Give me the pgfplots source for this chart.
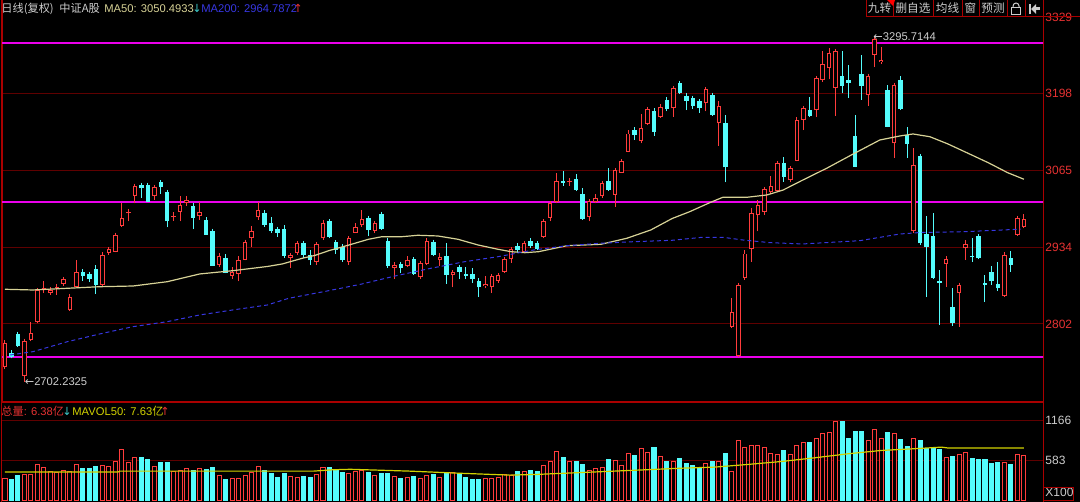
\documentclass[border=0pt]{standalone}
\usepackage{pgfplots}
\pgfplotsset{compat=1.18}
\usepackage{pgfplotstable}
\usepackage{fontspec}
\setmainfont{Liberation Sans}
\newfontfamily\cjk{Noto Sans CJK SC}
\newfontfamily\sym{DejaVu Sans}

\definecolor{cred}{RGB}{255,60,60}
\definecolor{ccyan}{RGB}{84,252,252}
\definecolor{gridc}{RGB}{95,0,0}
\definecolor{framec}{RGB}{170,0,0}
\definecolor{mag}{RGB}{235,0,235}
\definecolor{ma50}{RGB}{215,210,150}
\definecolor{ma200}{RGB}{55,55,225}
\definecolor{vol50}{RGB}{210,210,0}
\definecolor{txt}{RGB}{205,205,205}
\definecolor{lbl}{RGB}{230,50,50}
\definecolor{arrc}{RGB}{60,200,200}
\newcommand\hf{\fontsize{5.6pt}{6.5pt}\selectfont}

\pgfplotstableread{
i O H L C V
0 2729 2775 2724 2770 326
1 2752 2757 2743 2746 307
2 2785 2789 2763 2764 360
3 2713 2776 2702.23 2773 380
4 2775 2806 2772 2787 380
5 2806 2863 2803 2860 526
6 2860 2875 2855 2863 487
7 2855 2866 2852 2860 428
8 2863 2871 2852 2866 414
9 2871 2883 2867 2879 438
10 2826 2854 2825 2848 428
11 2866 2912 2865 2892 526
12 2892 2896 2876 2884 472
13 2888 2890 2874 2880 462
14 2896 2903 2854 2869 496
15 2869 2922 2867 2921 511
16 2924 2932 2921 2930 496
17 2926 2956 2925 2955 569
18 2971 3010 2969 2984 740
19 2992 2999 2978 2995 560
20 3022 3041 3009 3039 632
21 3041 3042 3018 3035 632
22 3041 3044 3011 3012 594
23 3022 3041 3015 3037 496
24 3045 3046 3026 3037 555
25 3029 3032 2968 2978 555
26 2985 2995 2979 2987 419
27 2995 3021 2978 3006 438
28 3009 3022 3005 3014 472
29 3005 3008 2965 2984 438
30 2987 3012 2981 2995 462
31 2981 2982 2955 2955 457
32 2962 2963 2902 2902 487
33 2903 2924 2900 2919 365
34 2915 2922 2889 2890 311
35 2885 2900 2880 2892 326
36 2888 2918 2875 2912 326
37 2912 2946 2911 2943 365
38 2949 2970 2935 2962 414
39 2985 3012 2981 2998 496
40 2993 2995 2969 2972 438
41 2975 2986 2959 2962 394
42 2965 2969 2952 2959 341
43 2965 2972 2915 2919 389
44 2915 2921 2898 2920 350
45 2924 2943 2921 2941 331
46 2941 2945 2915 2921 350
47 2921 2929 2903 2911 341
48 2909 2941 2903 2939 380
49 2949 2978 2947 2976 487
50 2978 2979 2949 2951 487
51 2942 2943 2922 2929 438
52 2935 2938 2909 2911 414
53 2909 2952 2903 2949 400
54 2959 2975 2958 2968 423
55 2972 2997 2969 2982 438
56 2984 2985 2953 2963 409
57 2962 2978 2958 2975 365
58 2991 2993 2963 2965 394
59 2945 2946 2898 2902 394
60 2898 2909 2879 2903 350
61 2905 2906 2889 2898 326
62 2902 2918 2899 2912 341
63 2913 2917 2886 2888 350
64 2882 2909 2879 2907 326
65 2905 2946 2903 2945 365
66 2943 2946 2918 2921 380
67 2912 2924 2902 2917 341
68 2918 2941 2871 2886 414
69 2886 2893 2865 2891 414
70 2899 2903 2879 2892 399
71 2888 2900 2879 2884 341
72 2888 2898 2872 2879 311
73 2876 2881 2848 2865 311
74 2867 2884 2863 2871 326
75 2865 2886 2855 2884 326
76 2876 2890 2873 2886 341
77 2892 2915 2890 2913 375
78 2913 2932 2907 2930 365
79 2936 2941 2924 2929 419
80 2926 2942 2924 2941 419
81 2945 2947 2932 2936 433
82 2941 2943 2929 2930 419
83 2952 2981 2949 2978 511
84 2984 3012 2978 3009 569
85 3012 3062 3009 3048 715
86 3048 3064 3039 3044 632
87 3045 3053 3039 3048 569
88 3051 3059 3030 3032 569
89 3025 3035 2981 2982 526
90 2986 3015 2978 3013 433
91 3011 3026 3009 3019 472
92 3021 3045 3019 3044 487
93 3048 3069 3030 3032 603
94 3024 3068 3003 3066 579
95 3062 3082 3061 3081 511
96 3098 3135 3097 3129 691
97 3135 3141 3118 3127 652
98 3116 3162 3112 3139 755
99 3145 3172 3144 3171 696
100 3168 3172 3125 3132 769
101 3158 3177 3156 3175 647
102 3187 3190 3167 3171 569
103 3172 3209 3158 3207 565
104 3216 3218 3197 3198 608
105 3193 3198 3169 3185 545
106 3190 3191 3171 3176 511
107 3184 3187 3165 3172 482
108 3182 3207 3167 3205 545
109 3195 3197 3159 3161 569
110 3147 3184 3108 3176 574
111 3147 3161 3045 3071 681
112 2797 2846 2795 2823 423
113 2747 2872 2745 2869 876
114 2881 2929 2878 2923 769
115 2930 3001 2909 2993 798
116 2989 3015 2961 3006 798
117 2995 3035 2989 3033 769
118 3029 3056 3026 3039 691
119 3031 3079 3029 3078 672
120 3079 3089 3046 3055 730
121 3049 3072 3045 3069 676
122 3082 3155 3081 3153 798
123 3153 3175 3135 3172 847
124 3169 3192 3157 3159 852
125 3169 3227 3157 3224 900
126 3221 3271 3218 3248 973
127 3241 3275 3222 3267 998
128 3207 3271 3159 3270 1158
129 3227 3270 3198 3211 1158
130 3220 3247 3190 3216 900
131 3124 3161 3071 3072 1012
132 3232 3264 3187 3211 1012
133 3195 3230 3176 3228 876
134 3264 3295.71 3243 3291 1037
135 3252 3278 3248 3256 900
136 3203 3212 3140 3141 998
137 3112 3214 3087 3212 983
138 3221 3227 3169 3171 886
139 3127 3141 3087 3111 788
140 2961 3104 2958 3075 900
141 3090 3092 2938 2941 876
142 2957 2987 2848 2934 764
143 2953 2992 2879 2881 755
144 2875 2894 2800 2872 740
145 2905 2918 2866 2913 632
146 2832 2863 2799 2804 647
147 2856 2872 2797 2869 667
148 2932 2947 2912 2939 701
149 2919 2949 2909 2917 618
150 2953 2957 2913 2915 594
151 2873 2886 2840 2869 603
152 2892 2902 2869 2876 545
153 2871 2909 2859 2863 555
154 2850 2922 2849 2921 555
155 2915 2928 2892 2903 526
156 2955 2985 2953 2984 676
157 2969 2990 2966 2982 652
}\candles

\pgfplotsset{
  upf/.style={x filter/.expression={\thisrow{C}>\thisrow{O} ? x : nan}},
  dnf/.style={x filter/.expression={\thisrow{C}<\thisrow{O} ? x : nan}},
  hollowf/.style={x filter/.expression={\thisrow{C}-\thisrow{O}>3.6 ? x : nan}},
}

\begin{document}
\begin{tikzpicture}
\fill[black] (0,0) rectangle (540pt,-251pt);
\useasboundingbox (0,0) rectangle (540pt,-251pt);

\begin{axis}[at={(1pt,-200.5pt)}, anchor=south west, scale only axis,
  width=520.5pt, height=200.5pt,
  xmin=-0.462, xmax=159.94, ymin=2669.8, ymax=3358.2,
  axis line style={draw=framec, line width=0.5pt},
  xtick=\empty,
  ytick={2802,2934,3065,3198}, yticklabels={2802,2934,3065,3198},
  extra y ticks={3329}, extra y tick labels={3329}, extra y tick style={grid=none},
  ymajorgrids, grid style={draw=gridc, line width=0.5pt},
  yticklabel pos=right, major tick length=0pt,
  yticklabel style={font=\fontsize{6pt}{7pt}\selectfont, text=lbl, anchor=west, inner sep=0pt, xshift=1pt},
  clip=true]

% support / resistance lines
\addplot[mag, line width=1pt, forget plot] coordinates {(-1,3284.4) (161,3284.4)};
\addplot[mag, line width=1pt, forget plot] coordinates {(-1,3011.4) (161,3011.4)};
\addplot[mag, line width=1pt, forget plot] coordinates {(-1,2745.4) (161,2745.4)};

% wicks
\addplot[draw=none, mark=none, forget plot, upf,
  error bars/.cd, y dir=plus, y explicit, error mark=none,
  error bar style={draw=cred, line width=0.5pt}]
  table[x=i, y=L, y error plus expr=\thisrow{H}-\thisrow{L}] {\candles};
\addplot[draw=none, mark=none, forget plot, dnf,
  error bars/.cd, y dir=plus, y explicit, error mark=none,
  error bar style={draw=ccyan, line width=0.5pt}]
  table[x=i, y=L, y error plus expr=\thisrow{H}-\thisrow{L}] {\candles};

% bodies up: red block, then black inside (hollow)
\addplot[draw=none, mark=none, forget plot, upf,
  error bars/.cd, y dir=plus, y explicit, error mark=-,
  error mark options={draw=cred, line width=0.5pt, mark size=1.125pt},
  error bar style={draw=cred, line width=2.25pt}]
  table[x=i, y=O, y error plus expr=\thisrow{C}-\thisrow{O}] {\candles};
\addplot[draw=none, mark=none, forget plot, hollowf,
  error bars/.cd, y dir=plus, y explicit, error mark=none,
  error bar style={draw=black, line width=1.25pt}]
  table[x=i, y expr=\thisrow{O}+1.7, y error plus expr=\thisrow{C}-\thisrow{O}-3.4] {\candles};
% bodies down (filled)
\addplot[draw=none, mark=none, forget plot, dnf,
  error bars/.cd, y dir=plus, y explicit, error mark=-,
  error mark options={draw=ccyan, line width=0.5pt, mark size=1.125pt},
  error bar style={draw=ccyan, line width=2.25pt}]
  table[x=i, y=C, y error plus expr=\thisrow{O}-\thisrow{C}] {\candles};

% MA50
\addplot[ma50, line width=0.6pt, mark=none] coordinates {
(0,2861.6) (4.3,2860.4) (9.6,2863.3) (14.6,2866) (19.7,2867.2) (25,2874.6) (30,2887.9) (35.1,2893.5) (40.4,2900.7) (42.7,2905) (45.8,2914.8) (47.8,2919.9) (49.9,2927.9) (53,2937.6) (56,2947.4) (58.1,2951.9) (61.2,2951.9) (63.6,2954.3) (66.7,2953.1) (69.8,2947.4) (72.9,2937.6) (76,2930.2) (78,2926.1) (80.1,2924.4) (82.2,2926.1) (86.6,2936.4) (91.8,2938.8) (95.8,2949.1) (99.5,2963.4) (102.8,2983.1) (105.5,2994.8) (108.6,3010.3) (110.6,3019.5) (114.3,3019.5) (117.4,3023.5) (119.9,3032) (122.8,3048.4) (126.6,3069.3) (130.7,3093.9) (134.8,3117.9) (137.9,3124.8) (139.9,3128.2) (142.5,3123.5) (145.3,3111) (148.4,3095) (151.5,3078.9) (154.5,3061.7) (157,3050.5)};
% MA200
\addplot[ma200, line width=0.5pt, mark=none, dash pattern=on 2pt off 1.5pt] coordinates {
(0.8,2748.8) (4.3,2754.5) (9.6,2771.6) (14.6,2784.9) (19.7,2797.4) (25,2806) (30,2817.5) (35.1,2826.1) (40.4,2834.6) (43.7,2846.1) (49.9,2859.2) (55,2870.7) (60.1,2884.4) (65.6,2897.6) (70.8,2908.9) (76,2917.6) (81.5,2929.1) (86.6,2936.4) (91.8,2940.6) (96.9,2943.3) (102.8,2945.7) (107.5,2950.9) (110.6,2950.9) (113.7,2946.2) (117.9,2941.6) (122.9,2939.4) (131.7,2945) (137.9,2956.5) (141.1,2959.1) (147.9,2960.5) (156.5,2964.8)};

\node[anchor=west, inner sep=0pt, text=txt, font=\hf] at (axis cs:133.75,3295.71) {{\sym ←}3295.7144};
\node[anchor=west, inner sep=0pt, text=txt, font=\hf] at (axis cs:3,2702.23) {{\sym ←}2702.2325};
\end{axis}

\begin{axis}[at={(1pt,-251pt)}, anchor=south west, scale only axis,
  width=520.5pt, height=50pt,
  xmin=-0.462, xmax=159.94, ymin=-21.9, ymax=1435.6,
  axis line style={draw=framec, line width=0.5pt},
  xtick=\empty,
  ytick={583,1166}, yticklabels={583,1166},
  extra y ticks={124}, extra y tick labels={X100}, extra y tick style={grid=none},
  ymajorgrids, grid style={draw=gridc, line width=0.5pt},
  yticklabel pos=right, major tick length=0pt,
  yticklabel style={font=\fontsize{6pt}{7pt}\selectfont, text=txt, anchor=west, inner sep=0pt, xshift=1pt},
  clip=true]
\addplot[ybar, bar width=0.62, bar shift=0pt, draw=cred, fill=black, line width=0.5pt, upf, forget plot]
  table[x=i, y=V] {\candles};
\addplot[ybar, bar width=0.62, bar shift=0pt, draw=ccyan, fill=ccyan, line width=0.5pt, dnf, forget plot]
  table[x=i, y=V] {\candles};
\addplot[vol50, line width=0.6pt, mark=none] coordinates {
(0,414) (17.4,414) (17.7,428) (47.5,428) (50.5,448) (53.2,455) (62.4,428) (69.6,399) (77.8,370) (81.9,380) (89.1,409) (96.3,438) (104.5,472) (109.4,487) (114.5,526) (119.7,569) (124.8,623) (129.9,681) (135.1,730) (140.2,755) (144.3,778) (145.4,764) (157,764)};
\end{axis}

\begin{scope}[x=0.5pt,y=-0.5pt]
% header
\node[anchor=west, inner sep=0pt, font=\hf, text=txt] at (1,8.5) {\cjk 日线(复权)};
\node[anchor=west, inner sep=0pt, font=\hf, text=txt] at (59,8.5) {\cjk 中证A股};
\node[anchor=west, inner sep=0pt, font=\hf, text=ma50] at (104,8.5) {MA50: 3050.4933};
\node[anchor=west, inner sep=0pt, font=\hf, text=arrc] at (192,8.5) {\sym ↓};
\node[anchor=west, inner sep=0pt, font=\hf, text=ma200] at (201,8.5) {MA200: 2964.7872};
\node[anchor=west, inner sep=0pt, font=\hf, text=lbl] at (293,8.5) {\sym ↑};
% volume header
\node[anchor=west, inner sep=0pt, font=\hf, text=lbl] at (1,411.5) {{\cjk 总量}: 6.38{\cjk 亿}};
\node[anchor=west, inner sep=0pt, font=\hf, text=arrc] at (62,411.5) {\sym ↓};
\node[anchor=west, inner sep=0pt, font=\hf, text=vol50] at (72,411.5) {MAVOL50: 7.63{\cjk 亿}};
\node[anchor=west, inner sep=0pt, font=\hf, text=lbl] at (160,411.5) {\sym ↑};
% toolbar
\fill[black] (866,0) rectangle (1043,17);
\draw[framec, line width=0.5pt] (866,0) -- (866,17) -- (1080,17);
\foreach \xx in {893,933,962,979,1007,1025,1043} \draw[framec, line width=0.5pt] (\xx,0) -- (\xx,17);
\node[inner sep=0pt, font=\fontsize{5.8pt}{6.5pt}\selectfont, text=txt] at (879.5,8.5) {\cjk 九转};
\node[inner sep=0pt, font=\fontsize{5.8pt}{6.5pt}\selectfont, text=txt] at (913,8.5) {\cjk 删自选};
\node[inner sep=0pt, font=\fontsize{5.8pt}{6.5pt}\selectfont, text=txt] at (947.5,8.5) {\cjk 均线};
\node[inner sep=0pt, font=\fontsize{5.8pt}{6.5pt}\selectfont, text=txt] at (970.5,8.5) {\cjk 窗};
\node[inner sep=0pt, font=\fontsize{5.8pt}{6.5pt}\selectfont, text=txt] at (993,8.5) {\cjk 预测};
\fill[red] (887,0) -- (895,0) -- (893,6) -- cycle;
\draw[txt, line width=0.5pt] (1011.5,8) rectangle (1020.5,15);
\draw[txt, line width=0.5pt] (1013,8) -- (1013,6) arc[start angle=180, end angle=360, radius=3] -- (1019,8);
\fill[txt] (1029,4) rectangle (1030.5,14);
\fill[txt] (1031,9) -- (1036,4) -- (1036,14) -- cycle;
\fill[txt] (1036,7.5) rectangle (1040,10.5);
\draw[framec, line width=0.5pt] (1043,487) rectangle (1073,500);
\end{scope}
\end{tikzpicture}
\end{document}
